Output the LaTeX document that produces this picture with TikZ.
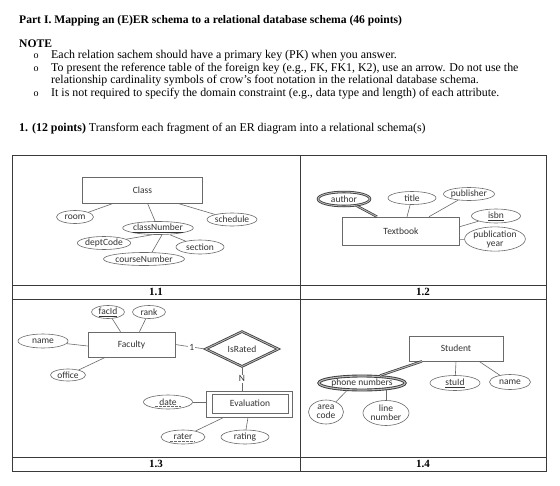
\documentclass[tikz,border=0pt]{standalone}
\usepackage{fontspec}
\setmainfont{Liberation Serif}
\newfontfamily\diagfont{Carlito}
\usetikzlibrary{shapes.geometric}
\definecolor{ln}{HTML}{6A6A6A}
\definecolor{tx}{HTML}{333333}
\definecolor{bd}{HTML}{3A3A3A}
\begin{document}
\begin{tikzpicture}[x=1pt,y=-1pt,
  dfont/.style={font=\diagfont\fontsize{9.5}{10}\selectfont,text=tx},
  attr/.style={ellipse,draw=ln,line width=0.6pt,inner sep=0pt,minimum height=13pt,dfont},
  ent/.style={rectangle,draw=ln,line width=0.6pt,inner sep=0pt,dfont},
  conn/.style={draw=ln,line width=0.6pt},
  multi/.style={ellipse,draw=gray!45!black,line width=0.8pt,double=gray!55,double distance=0.9pt,inner sep=0pt,dfont},
  thickconn/.style={draw=gray!45!black,line width=0.7pt,double=gray!60,double distance=1pt},
  body/.style={anchor=base west,inner sep=0pt,font=\fontsize{11.9}{13}\selectfont},
  bul/.style={anchor=base,inner sep=0pt,font=\fontsize{10}{11}\selectfont},
  lab/.style={inner sep=0pt,font=\bfseries\fontsize{11}{12}\selectfont},
  frame/.style={draw=bd,line width=0.8pt}]
\useasboundingbox[fill=white] (0,0) rectangle (560,485);

% ---------- header text ----------
\node[body,font=\bfseries\fontsize{11.6}{13}\selectfont] (title) at (19,23) {Part I. Mapping an (E)ER schema to a relational database schema (46 points)};
\node[body,font=\bfseries\fontsize{11.6}{13}\selectfont] (note) at (19,47) {NOTE};
\node[bul] (b1) at (36,58) {o};
\node[body] (t1) at (51,58) {Each relation sachem should have a primary key (PK) when you answer.};
\node[bul] (b2) at (36,71) {o};
\node[body] (t2) at (51,71) {To present the reference table of the foreign key (e.g., FK, FK1, K2), use an arrow. Do not use the};
\node[body] (t3) at (51,83.5) {relationship cardinality symbols of crow's foot notation in the relational database schema.};
\node[bul] (b3) at (36,96.5) {o};
\node[body] (t4) at (51,96.5) {It is not required to specify the domain constraint (e.g., data type and length) of each attribute.};
\node[body] (q1) at (19,131) {\textbf{1. (12 points)} Transform each fragment of an ER diagram into a relational schema(s)};

% ---------- table ----------
\coordinate (tl) at (12,155);
\coordinate (br) at (546,471);
\draw[frame] (tl) rectangle (br);
\draw[frame] (300,155) -- (300,471);
\draw[frame] (12,285) -- (546,285);
\draw[frame] (12,299) -- (546,299);
\draw[frame] (12,457) -- (546,457);
\node[lab] (l11) at (156,292) {1.1};
\node[lab] (l12) at (423,292) {1.2};
\node[lab] (l13) at (156,464) {1.3};
\node[lab] (l14) at (423,464) {1.4};

% ---------- 1.1 ----------
\node[ent,minimum width=120pt,minimum height=26pt] (cls) at (142.5,190) {Class};
\node[attr,minimum width=37pt] (room) at (75,217) {room};
\node[attr,minimum width=64pt] (cn) at (158,228) {\underline{classNumber}};
\node[attr,minimum width=50pt] (sched) at (232,219.5) {schedule};
\node[attr,minimum width=47pt] (dept) at (104,243) {deptCode};
\node[attr,minimum width=48pt,minimum height=14pt] (sec) at (200,247) {section};
\node[attr,minimum width=76pt] (course) at (144,259) {courseNumber};
\draw[conn] ([xshift=-29pt]cls.south) -- (room);
\draw[conn] ([xshift=5pt]cls.south) -- (cn);
\draw[conn] ([xshift=35pt]cls.south) -- (sched);
\draw[conn] ([xshift=-6pt]cn.south) -- (dept);
\draw[conn] ([xshift=4pt]cn.south) -- ([xshift=8pt]course.north);
\draw[conn] ([xshift=12pt]cn.south) -- (sec);

% ---------- 1.2 ----------
\node[ent,minimum width=117pt,minimum height=28pt] (tb) at (401,231) {Textbook};
\node[multi,minimum width=52pt,minimum height=14pt] (author) at (344,199) {author};
\node[attr,minimum width=48pt] (title2) at (412,198) {title};
\node[attr,minimum width=44pt] (pub) at (469,194) {publisher};
\node[attr,minimum width=49pt,minimum height=14pt] (isbn) at (496,216) {\underline{isbn}};
\node[attr,minimum width=50pt,minimum height=24pt,align=center,font=\diagfont\fontsize{9.5}{9}\selectfont] (pyear) at (495,239) {publication\\year};
\draw[thickconn] (author) -- ([xshift=-24pt]tb.north);
\draw[conn] (title2) -- ([xshift=6pt]tb.north);
\draw[conn] (pub) -- ([xshift=28pt]tb.north);
\draw[conn] (isbn) -- ([yshift=-10pt]tb.north east);
\draw[conn] (pyear) -- ([yshift=-23pt]tb.north east);

% ---------- 1.3 ----------
\node[ent,minimum width=87pt,minimum height=25pt] (fac) at (131.5,344.5) {Faculty};
\node[attr,minimum width=33pt] (facid) at (108,312) {\underline{facId}};
\node[attr,minimum width=33pt] (rank) at (149,312) {rank};
\node[attr,minimum width=50pt,minimum height=14pt] (name1) at (43,341) {name};
\node[attr,minimum width=35pt,minimum height=12pt] (office) at (68,375) {office};
\node[diamond,draw=gray!45!black,line width=0.8pt,double=gray!55,double distance=0.9pt,inner sep=0pt,minimum width=73pt,minimum height=30pt,dfont] (rated) at (242,349) {IsRated};
\node[ent,minimum width=86pt,minimum height=26pt] (evo) at (249,404) {};
\node[ent,minimum width=76pt,minimum height=19pt] (ev) at (250,403.5) {Evaluation};
\node[attr,minimum width=49pt,minimum height=14pt] (date) at (168,402) {date};
\node[attr,minimum width=44pt,minimum height=14pt] (rater) at (183,437) {rater};
\node[attr,minimum width=48pt,minimum height=14pt] (rating) at (245,437) {rating};
\draw[ln,line width=0.5pt,dash pattern=on 2.5pt off 1.5pt] ([xshift=-13pt,yshift=-4.5pt]date.center) -- ([xshift=13pt,yshift=-4.5pt]date.center);
\draw[ln,line width=0.5pt,dash pattern=on 2.5pt off 1.5pt] ([xshift=-13pt,yshift=-4.5pt]rater.center) -- ([xshift=12pt,yshift=-4.5pt]rater.center);
\draw[conn] (facid) -- ([xshift=-11pt]fac.north);
\draw[conn] (rank) -- ([xshift=8pt]fac.north);
\draw[conn] (name1) -- ([yshift=-1.5pt]fac.west);
\draw[conn] ([xshift=-26pt]fac.south) -- (office);
\draw[conn] (fac.east) -- node[fill=white,inner sep=0.8pt,dfont,pos=0.55] (one) {1} (rated.west);
\draw[conn] (rated.south) -- node[fill=white,inner sep=0.8pt,dfont,pos=0.5] (nn) {N} (rated.south |- evo.north);
\draw[conn] (date) -- (evo.west |- date.east);
\draw[conn] ([xshift=-25pt]evo.south) -- (rater);
\draw[conn] ([xshift=-1pt]evo.south) -- ([xshift=1pt]rating.north);

% ---------- 1.4 ----------
\node[ent,minimum width=94pt,minimum height=25pt] (stu) at (456,348.5) {Student};
\node[multi,minimum width=75pt,minimum height=14pt,line width=0.9pt,double distance=1.1pt] (phone) at (362,383) {phone numbers};
\node[attr,minimum width=50pt,minimum height=15pt] (stuid) at (455,383) {\underline{stuId}};
\node[attr,minimum width=41pt,minimum height=15pt] (name2) at (510,382) {name};
\node[attr,minimum width=35pt,minimum height=24pt,align=center,font=\diagfont\fontsize{9.5}{9}\selectfont] (area) at (326,412) {area\\code};
\node[attr,minimum width=46pt,minimum height=25pt,align=center,font=\diagfont\fontsize{9.5}{9}\selectfont] (lnum) at (386,413) {line\\number};
\draw[thickconn] ([xshift=18pt]phone.north) -- ([xshift=-34pt]stu.south);
\draw[conn] (stu.south) -- (stuid);
\draw[conn] ([xshift=23pt]stu.south) -- (name2);
\draw[conn] ([xshift=-15pt]phone.south) -- (area);
\draw[conn] ([xshift=24pt]phone.south) -- ([xshift=24pt]phone.south |- lnum.north);
\end{tikzpicture}
\end{document}
